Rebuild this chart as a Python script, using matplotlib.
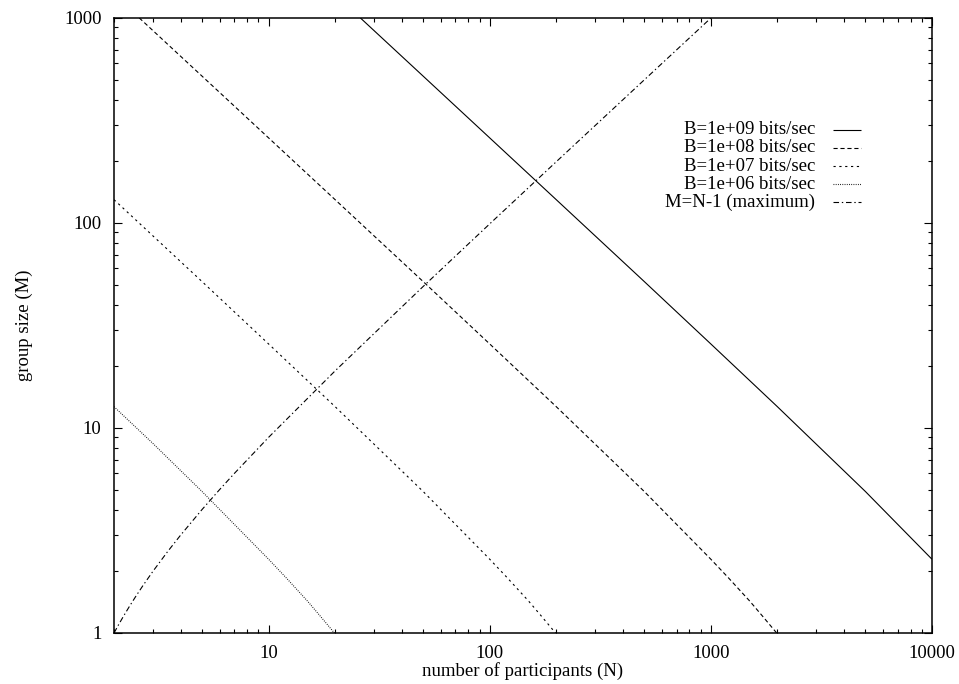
import matplotlib
matplotlib.use("Agg")
import matplotlib.pyplot as plt
from matplotlib.ticker import FixedLocator, NullFormatter, FixedFormatter

plt.rcParams['font.family'] = ['Liberation Serif', 'DejaVu Serif']
plt.rcParams['lines.scale_dashes'] = False

# values
n_b9 = [26, 50, 100, 200, 500, 1000, 2000, 5000, 10000]
m_b9 = [1001, 520.5, 260.1, 129.9, 51.8, 25.7, 12.7, 4.9, 2.29]

n_b8 = [2.6, 3, 5, 10, 20, 50, 100, 200, 500, 1000, 1200, 1500, 1700, 2000]
m_b8 = [1001, 867.8, 520.5, 260.1, 129.9, 51.8, 25.7, 12.7, 4.9, 2.29, 1.86, 1.43, 1.22, 0.99]

n_b7 = [2, 5, 10, 20, 50, 100, 120, 150, 170, 200]
m_b7 = [129.9, 51.8, 25.7, 12.7, 4.9, 2.29, 1.86, 1.43, 1.22, 0.99]

n_b6 = [2, 3, 5, 10, 12, 15, 17, 20]
m_b6 = [12.7, 8.4, 4.9, 2.29, 1.86, 1.43, 1.22, 0.99]

n_max = [2, 2.1, 2.2, 2.35, 2.5, 2.7, 3, 3.5, 4, 5, 6, 7, 10, 20, 50, 100, 200, 500, 1000]
m_max = [1, 1.1, 1.2, 1.35, 1.5, 1.7, 2, 2.5, 3, 4, 5, 6, 9, 19, 49, 99, 199, 499, 999]

labels = ["B=1e+09 bits/sec", "B=1e+08 bits/sec", "B=1e+07 bits/sec",
          "B=1e+06 bits/sec", "M=N-1 (maximum)"]
xticks = [10, 100, 1000, 10000]
yticks = [1, 10, 100, 1000]

fig = plt.figure(figsize=(9.59, 6.84), dpi=100)
ax = fig.add_axes([0.1189, 0.0746, 0.8529, 0.8991])

lw = 0.8
styles = [(0, ()), (0, (3, 2)), (0, (1.6, 2.6)), (0, (0.6, 1.0)), (0, (4, 2, 1, 2))]
series = [(n_b9, m_b9), (n_b8, m_b8), (n_b7, m_b7), (n_b6, m_b6), (n_max, m_max)]
for (n, m), ls in zip(series, styles):
    ax.plot(n, m, color="black", lw=lw, linestyle=ls)

ax.set_xscale("log")
ax.set_yscale("log")
ax.set_xlim(2, 10000)
ax.set_ylim(1, 1000)

ax.xaxis.set_major_locator(FixedLocator(xticks))
ax.xaxis.set_major_formatter(FixedFormatter([str(t) for t in xticks]))
ax.yaxis.set_major_locator(FixedLocator(yticks))
ax.yaxis.set_major_formatter(FixedFormatter([str(t) for t in yticks]))
ax.xaxis.set_minor_formatter(NullFormatter())
ax.yaxis.set_minor_formatter(NullFormatter())
ax.tick_params(which="both", direction="in", top=True, right=True, labelsize=13.5, width=0.8)
ax.tick_params(which="major", length=6, pad=9)
ax.tick_params(which="minor", length=3.2)
for s in ax.spines.values():
    s.set_linewidth(1.1)

ax.set_xlabel("number of participants (N)", fontsize=13.5, labelpad=0)
ax.set_ylabel("group size (M)", fontsize=13.5, labelpad=22)

# gnuplot style key: right aligned text, sample line on the right
for i, (lab, ls) in enumerate(zip(labels, styles)):
    y = 0.8185 - i * 0.0296
    ax.text(0.857, y, lab, transform=ax.transAxes, ha="right", va="center", fontsize=13.5)
    ax.plot([0.8787, 0.9127], [y, y], transform=ax.transAxes, color="black", lw=lw, linestyle=ls)

fig.savefig("out.png", dpi=100)
